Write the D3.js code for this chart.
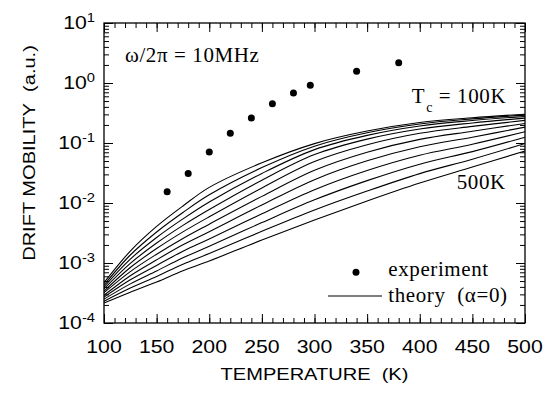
<!DOCTYPE html>
<html>
<head>
<meta charset="utf-8">
<script src="https://cdnjs.cloudflare.com/ajax/libs/d3/7.8.5/d3.min.js"></script>
<style>
body { margin: 0; background: #fff; }
.tick line { stroke: #000; stroke-width: 1; }
</style>
</head>
<body>
<div id="chart"></div>
<script>
/* Data */
var temps = [100, 125, 150, 175, 200, 250, 300, 350, 400, 450, 500];

var tcValues = [100, 140, 180, 220, 260, 300, 340, 380, 420, 460, 500];
var theoryTc100 = [4.7e-4, 1.58e-3, 4.07e-3, 8.91e-3, 1.82e-2, 4.68e-2, 9.77e-2, 0.158, 0.219, 0.263, 0.302];
var theoryTc140 = [4.3e-4, 1.36e-3, 3.29e-3, 6.95e-3, 1.37e-2, 3.89e-2, 8.85e-2, 0.148, 0.207, 0.252, 0.292];
var theoryTc180 = [4.0e-4, 1.16e-3, 2.66e-3, 5.43e-3, 1.04e-2, 3.11e-2, 7.76e-2, 0.134, 0.192, 0.237, 0.277];
var theoryTc220 = [3.7e-4, 9.85e-4, 2.15e-3, 4.24e-3, 7.80e-3, 2.40e-2, 6.41e-2, 0.116, 0.171, 0.216, 0.260];
var theoryTc260 = [3.4e-4, 8.41e-4, 1.74e-3, 3.30e-3, 5.89e-3, 1.78e-2, 4.90e-2, 9.33e-2, 0.145, 0.189, 0.238];
var theoryTc300 = [3.2e-4, 7.19e-4, 1.40e-3, 2.57e-3, 4.44e-3, 1.29e-2, 3.52e-2, 7.03e-2, 0.115, 0.157, 0.212];
var theoryTc340 = [2.9e-4, 6.14e-4, 1.13e-3, 2.01e-3, 3.33e-3, 9.26e-3, 2.45e-2, 5.05e-2, 8.65e-2, 0.125, 0.184];
var theoryTc380 = [2.7e-4, 5.25e-4, 9.12e-4, 1.57e-3, 2.52e-3, 6.61e-3, 1.67e-2, 3.49e-2, 6.27e-2, 9.55e-2, 0.154];
var theoryTc420 = [2.5e-4, 4.49e-4, 7.38e-4, 1.22e-3, 1.90e-3, 4.71e-3, 1.13e-2, 2.36e-2, 4.44e-2, 7.19e-2, 0.125];
var theoryTc460 = [2.3e-4, 3.82e-4, 5.96e-4, 9.55e-4, 1.44e-3, 3.37e-3, 7.64e-3, 1.58e-2, 3.09e-2, 5.37e-2, 9.82e-2];
var theoryTc500 = [2.15e-4, 3.26e-4, 4.82e-4, 7.45e-4, 1.08e-3, 2.42e-3, 5.21e-3, 1.08e-2, 2.15e-2, 3.98e-2, 7.36e-2];

var expTemps    = [160, 180, 200, 220, 240, 260, 280, 296, 340, 380];
var expMobility = [0.0154, 0.031, 0.071, 0.145, 0.26, 0.45, 0.68, 0.92, 1.57, 2.18];

var xTickLabels = [100, 150, 200, 250, 300, 350, 400, 450, 500];
var yTickExponents = [1, 0, -1, -2, -3, -4];

var theoryCurves = [theoryTc100, theoryTc140, theoryTc180, theoryTc220, theoryTc260, theoryTc300,
                    theoryTc340, theoryTc380, theoryTc420, theoryTc460, theoryTc500];

/* Layout */
var width = 551, height = 401;
var margin = {top: 23, right: 26, bottom: 78, left: 104};
var plotW = width - margin.left - margin.right;
var plotH = height - margin.top - margin.bottom;
var SANS_STRETCH = 1.18;

var svg = d3.select("#chart").append("svg")
    .attr("width", width)
    .attr("height", height);

var main = svg.append("g")
    .attr("transform", "translate(" + margin.left + "," + margin.top + ")");

/* Scales */
var x = d3.scaleLinear().domain([100, 500]).range([0, plotW]);
var y = d3.scaleLog().domain([1e-4, 10]).range([plotH, 0]);

// sans text a bit wider than Liberation Sans, like the scanned figure
function sansText(px, py, size, anchor, rotate){
    return main.append("text")
        .attr("font-family", "Liberation Sans")
        .attr("font-size", size)
        .attr("text-anchor", anchor || "start")
        .attr("transform", "translate(" + px + "," + py + ")" +
              (rotate ? " rotate(" + rotate + ")" : "") +
              " scale(" + SANS_STRETCH + ",1)");
}
// serif annotation text, no transform
function serifText(px, py){
    return main.append("text")
        .attr("font-family", "Liberation Serif")
        .attr("font-size", 21)
        .attr("letter-spacing", 0.6)
        .attr("x", px)
        .attr("y", py);
}

/* Ticks - all point into the plot */
function ticks(axis, values, size){
    return axis.tickValues(values).tickSize(size).tickSizeOuter(0).tickFormat("");
}
function noDomain(g){ g.select(".domain").remove(); }

var minorX = x.ticks(40);
var minorY = y.ticks().filter(function(d){ return Math.abs(Math.log10(d) - Math.round(Math.log10(d))) > 1e-6; });
var majorY = yTickExponents.map(function(e){ return Math.pow(10, e); });

main.append("g").attr("transform", "translate(0," + plotH + ")").call(ticks(d3.axisBottom(x), minorX, -5)).call(noDomain);
main.append("g").attr("transform", "translate(0," + plotH + ")").call(ticks(d3.axisBottom(x), xTickLabels, -9)).call(noDomain);
main.append("g").call(ticks(d3.axisTop(x), minorX, -5)).call(noDomain);
main.append("g").call(ticks(d3.axisTop(x), xTickLabels, -9)).call(noDomain);
main.append("g").call(ticks(d3.axisLeft(y), minorY, -5)).call(noDomain);
main.append("g").call(ticks(d3.axisLeft(y), majorY, -9)).call(noDomain);
main.append("g").attr("transform", "translate(" + plotW + ",0)").call(ticks(d3.axisRight(y), minorY, -5)).call(noDomain);
main.append("g").attr("transform", "translate(" + plotW + ",0)").call(ticks(d3.axisRight(y), majorY, -9)).call(noDomain);

/* Frame */
main.append("rect")
    .attr("width", plotW)
    .attr("height", plotH)
    .attr("fill", "none")
    .attr("stroke", "#000")
    .attr("stroke-width", 1.3);

/* Tick labels */
xTickLabels.forEach(function(t){
    sansText(x(t), plotH + 30, 18, "middle").text(t);
});
yTickExponents.forEach(function(e){
    var lab = sansText(-9, y(Math.pow(10, e)) + 6, 18, "end");
    lab.append("tspan").text("10");
    lab.append("tspan").attr("font-size", 12.5).attr("dy", -7).text(String(e));
});

/* Axis titles */
sansText(plotW / 2, plotH + 57, 17, "middle").text("TEMPERATURE\u00a0\u00a0(K)");
sansText(-69, 130, 17, "middle", -90).text("DRIFT MOBILITY\u00a0\u00a0(a.u.)");

/* Theory curves */
var line = d3.line()
    .x(function(d){ return x(d[0]); })
    .y(function(d){ return y(d[1]); })
    .curve(d3.curveCatmullRom.alpha(0.5));

main.selectAll(".theory")
    .data(theoryCurves)
    .enter()
    .append("path")
        .attr("class", "theory")
        .attr("fill", "none")
        .attr("stroke", "#000")
        .attr("stroke-width", 1.1)
        .attr("d", function(vals){ return line(temps.map(function(t, i){ return [t, vals[i]]; })); });

/* Experiment points */
main.selectAll(".exp")
    .data(expTemps)
    .enter()
    .append("circle")
        .attr("class", "exp")
        .attr("cx", function(d){ return x(d); })
        .attr("cy", function(d, i){ return y(expMobility[i]); })
        .attr("r", 3.5)
        .attr("fill", "#000");

/* Annotations */
serifText(21, 39).text("\u03c9/2\u03c0 = 10MHz");

var tc = serifText(307.7, 80.3);
tc.append("tspan").text("T");
tc.append("tspan").attr("font-size", 14).attr("dx", 1).attr("dy", 9).text("c");
tc.append("tspan").attr("dy", -9).text(" = " + tcValues[0] + "K");

serifText(352.7, 166.3).text(tcValues[tcValues.length - 1] + "K");

/* Legend */
main.append("circle").attr("cx", 252).attr("cy", 249.3).attr("r", 3.5).attr("fill", "#000");
serifText(284.3, 253).text("experiment");
main.append("line").attr("x1", 224).attr("x2", 278).attr("y1", 273).attr("y2", 273)
    .attr("stroke", "#000").attr("stroke-width", 1.1);
serifText(284.3, 279).text("theory\u00a0\u00a0(\u03b1=0)");
</script>
</body>
</html>
